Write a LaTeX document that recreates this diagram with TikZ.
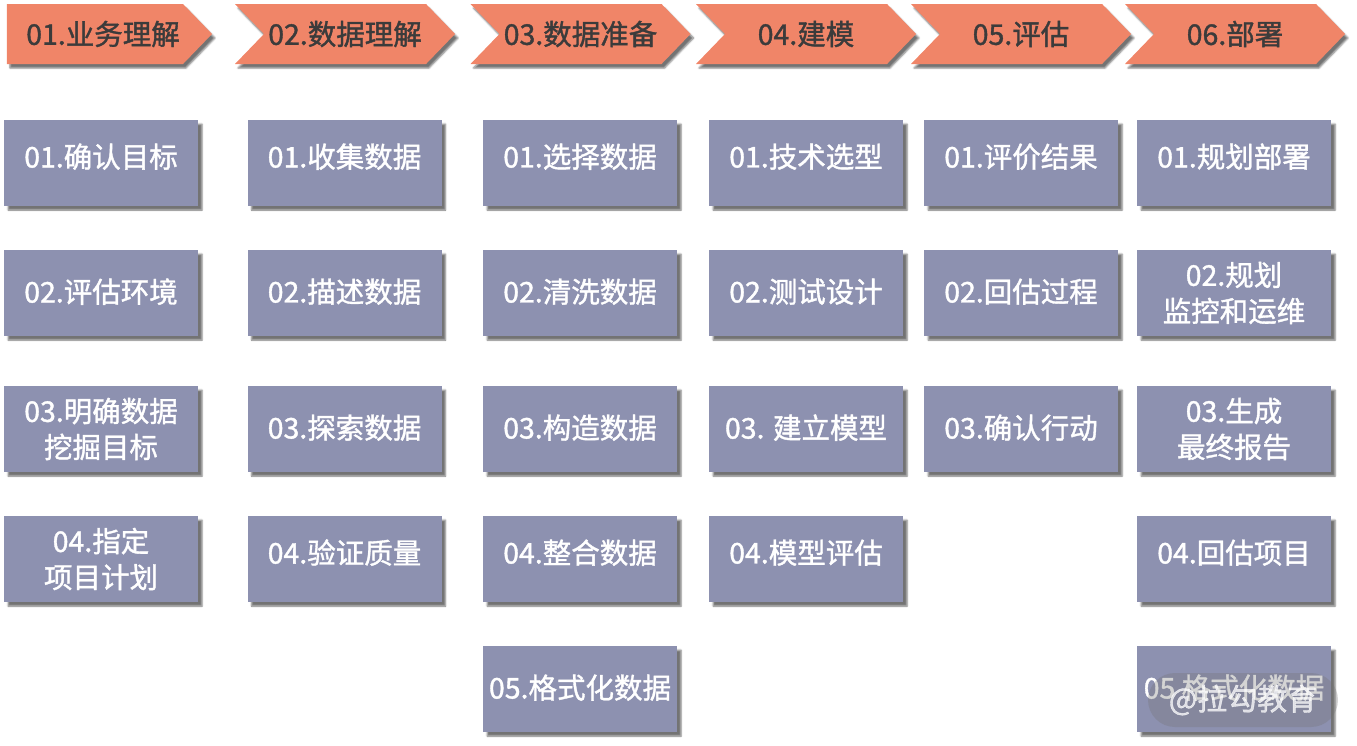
\documentclass[tikz,border=0pt]{standalone}
\usepackage{fontspec}
\newfontfamily\cjk{Noto Sans CJK SC}[RawFeature={embolden=1.3}]
\usetikzlibrary{shapes.symbols,shadows.blur}
\definecolor{stagered}{HTML}{F08568}
\definecolor{stepgray}{HTML}{8D91B0}
\definecolor{stagetext}{HTML}{3B3B3B}
\begin{document}
\begin{tikzpicture}[x=1pt,y=-1pt,
	stage/.style={shape=signal,signal to=east,signal from=west,
		signal pointer angle=92,fill=stagered,text=stagetext,
		minimum width=220,minimum height=60,inner sep=0pt,
		font=\cjk\fontsize{28.5}{34}\selectfont,
		blur shadow={shadow xshift=3pt,shadow yshift=-4pt,shadow opacity=55}},
	task/.style={fill=stepgray,text=white,align=center,
		minimum width=194,minimum height=86,inner sep=0pt,
		text depth=5pt,
		font=\cjk\fontsize{28.5}{36}\selectfont,
		blur shadow={shadow xshift=4pt,shadow yshift=-4pt,shadow opacity=55}},
	lifted/.style={task,text depth=15pt},
	tasktwo/.style={task,text depth={}}]
	\useasboundingbox (0,0) rectangle (1357,745);
	% phases
	\node[stage,signal from=nowhere,minimum width=205](business) at (95,34) {\hspace*{16pt}01.业务理解};
	\node[stage](data) at (345,34) {02.数据理解};
	\node[stage](prep) at (580.5,34) {03.数据准备};
	\node[stage](model) at (806,34) {04.建模};
	\node[stage](evaluate) at (1021,34) {05.评估};
	\node[stage](deploy) at (1235,34) {06.部署};
	% business understanding
	\node[lifted](goal) at (101,163) {01.确认目标};
	\node[task](env) at (101,293) {02.评估环境};
	\node[tasktwo](aim) at (101,429) {03.明确数据\\挖掘目标};
	\node[tasktwo](plan) at (101,559) {04.指定\\项目计划};
	% data understanding
	\node[lifted](collect) at (344.5,163) {01.收集数据};
	\node[task](describe) at (344.5,293) {02.描述数据};
	\node[task](explore) at (344.5,429) {03.探索数据};
	\node[lifted](verify) at (344.5,559) {04.验证质量};
	% data preparation
	\node[lifted](select) at (580,163) {01.选择数据};
	\node[task](clean) at (580,293) {02.清洗数据};
	\node[task](construct) at (580,429) {03.构造数据};
	\node[lifted](integrate) at (580,559) {04.整合数据};
	\node[task](format) at (580,689) {05.格式化数据};
	% modelling
	\node[lifted](tech) at (806,163) {01.技术选型};
	\node[task](testdesign) at (806,293) {02.测试设计};
	\node[task](build) at (806,429) {03. 建立模型};
	\node[lifted](assess) at (806,559) {04.模型评估};
	% evaluation
	\node[lifted](result) at (1021,163) {01.评价结果};
	\node[task](review) at (1021,293) {02.回估过程};
	\node[task](action) at (1021,429) {03.确认行动};
	% deployment
	\node[lifted](plandeploy) at (1234,163) {01.规划部署};
	\node[tasktwo](monitor) at (1234,293) {02.规划\\监控和运维};
	\node[tasktwo](report) at (1234,429) {03.生成\\最终报告};
	\node[lifted](retro) at (1234,559) {04.回估项目};
	\node[task](format2) at (1234,689) {05 格式化数据};
	% watermark
	\node[fill=black!55,fill opacity=0.3,text=white,text opacity=0.75,
		rounded corners=27pt,minimum width=190,minimum height=54,
		font=\cjk\fontsize{30}{36}\selectfont](mark) at (1243,700) {@拉勾教育};
\end{tikzpicture}
\end{document}
